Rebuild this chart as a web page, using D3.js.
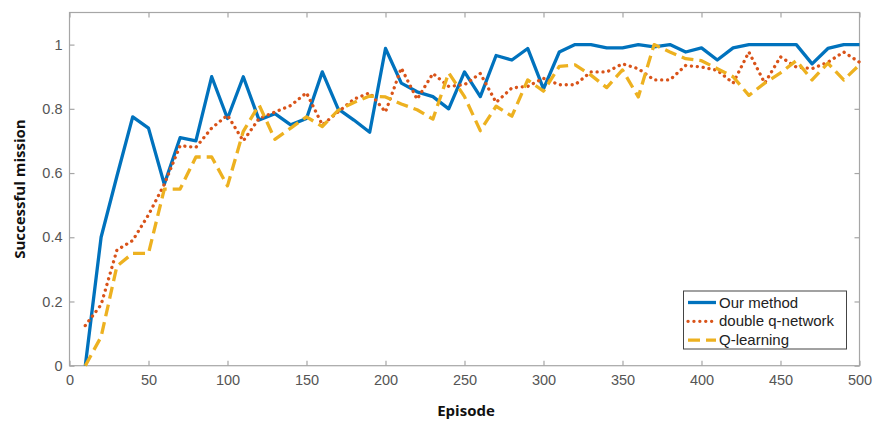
<!DOCTYPE html>
<html><head><meta charset="utf-8">
<script src="https://cdn.jsdelivr.net/npm/d3@7"></script>
<style>body{margin:0;background:#fff}svg{display:block}</style>
</head><body>
<svg id="c" width="877" height="424"></svg>
<script>
const episodes = d3.range(10, 501, 10);
const ourMethod = [0,0.40,0.59,0.775,0.74,0.565,0.71,0.70,0.90,0.77,
  0.90,0.765,0.785,0.75,0.77,0.915,0.80,0.765,0.727,0.988,
  0.88,0.853,0.838,0.80,0.915,0.838,0.966,0.952,0.988,0.862,
  0.977,1.0,1.0,0.99,0.99,1.0,0.993,1.0,0.977,0.99,
  0.952,0.99,1.0,1.0,1.0,1.0,0.94,0.988,1.0,1.0];
const doubleQ = [0.125,0.19,0.36,0.39,0.47,0.565,0.685,0.68,0.74,0.78,
  0.70,0.77,0.79,0.81,0.85,0.75,0.79,0.83,0.85,0.79,
  0.927,0.83,0.91,0.87,0.875,0.91,0.82,0.865,0.87,0.895,
  0.875,0.875,0.915,0.915,0.94,0.925,0.89,0.89,0.935,0.93,
  0.92,0.88,0.977,0.88,0.962,0.93,0.925,0.945,0.977,0.945];
const qLearning = [0,0.09,0.31,0.35,0.35,0.55,0.55,0.65,0.65,0.56,
  0.73,0.812,0.705,0.74,0.775,0.745,0.795,0.82,0.84,0.837,
  0.815,0.797,0.768,0.912,0.838,0.732,0.808,0.777,0.89,0.855,
  0.932,0.937,0.905,0.866,0.921,0.837,1.0,0.977,0.956,0.95,
  0.925,0.90,0.842,0.88,0.912,0.95,0.89,0.942,0.89,0.937];
const xTicks = [0,50,100,150,200,250,300,350,400,450,500];
const yTicks = [0,0.2,0.4,0.6,0.8,1];
const yTickLabels = ["0","0.2","0.4","0.6","0.8","1"];
const seriesNames = ["Our method","double q-network","Q-learning"];
const seriesColors = ["#0072BD","#D95319","#EDB120"];

const L=69.5, R=859.5, T=12.5, B=365.7;
const svg=d3.select("#c");
const x=d3.scaleLinear().domain([0,500]).range([L,R]);
const y=d3.scaleLinear().domain([0,1.1]).range([B,T]);
const axisCol="#a6a6a6", labCol="#555";

svg.append("rect").attr("x",L).attr("y",T).attr("width",R-L).attr("height",B-T)
  .attr("fill","#fff").attr("stroke",axisCol).attr("stroke-width",1.2);

function styleAxis(g){
  g.select(".domain").remove();
  g.selectAll(".tick line").attr("stroke",axisCol).attr("stroke-width",1.2);
  g.selectAll(".tick text").attr("fill",labCol).attr("font-family","'Liberation Sans',Arial,sans-serif").attr("font-size","14.5px");
}
const tl=5;
svg.append("g").attr("transform",`translate(0,${B})`)
  .call(d3.axisBottom(x).tickValues(xTicks).tickSize(-tl).tickPadding(9).tickFormat(d3.format("d"))).call(styleAxis);
svg.append("g").attr("transform",`translate(0,${T})`)
  .call(d3.axisTop(x).tickValues(xTicks).tickSize(-tl).tickFormat("")).call(styleAxis);
svg.append("g").attr("transform",`translate(${L},0)`)
  .call(d3.axisLeft(y).tickValues(yTicks).tickSize(-tl).tickPadding(7).tickFormat((d,i)=>yTickLabels[i])).call(styleAxis);
svg.append("g").attr("transform",`translate(${R},0)`)
  .call(d3.axisRight(y).tickValues(yTicks).tickSize(-tl).tickFormat("")).call(styleAxis);

svg.append("text").attr("x",466).attr("y",416).attr("text-anchor","middle")
  .attr("font-family","'Open Sans',Lato,sans-serif").attr("font-weight","bold").attr("font-size","15px").attr("fill","#111").text("Episode");
svg.append("text").attr("transform",`translate(25,${(T+B)/2}) rotate(-90)`).attr("text-anchor","middle")
  .attr("font-family","'Open Sans',Lato,sans-serif").attr("font-weight","bold").attr("font-size","15px").attr("fill","#111").text("Successful mission");

const line=d3.line().x((d,i)=>x(episodes[i])).y(d=>y(d));
const dashes=[null,"0.1,5.8","12,6"];
const allSeries=[ourMethod,doubleQ,qLearning];
allSeries.forEach((s,k)=>{
  svg.append("path").datum(s).attr("d",line).attr("fill","none")
    .attr("stroke",seriesColors[k]).attr("stroke-width",3.3)
    .attr("stroke-linecap",k===1?"round":"butt").attr("stroke-linejoin","round")
    .attr("stroke-dasharray",dashes[k]);
});

const lg=svg.append("g");
lg.append("rect").attr("x",683.5).attr("y",291).attr("width",163).attr("height",58)
  .attr("fill","#fff").attr("stroke","#444").attr("stroke-width",1);
seriesNames.forEach((n,k)=>{
  const yy=302.5+k*18.8;
  lg.append("line").attr("x1",688).attr("x2",716).attr("y1",yy).attr("y2",yy)
    .attr("stroke",seriesColors[k]).attr("stroke-width",3.3)
    .attr("stroke-linecap",k===1?"round":"butt").attr("stroke-dasharray",dashes[k]);
  lg.append("text").attr("x",719).attr("y",yy+5).attr("font-family","'Liberation Sans',Arial,sans-serif")
    .attr("font-size","15px").attr("fill","#222").text(n);
});
</script>
</body></html>
